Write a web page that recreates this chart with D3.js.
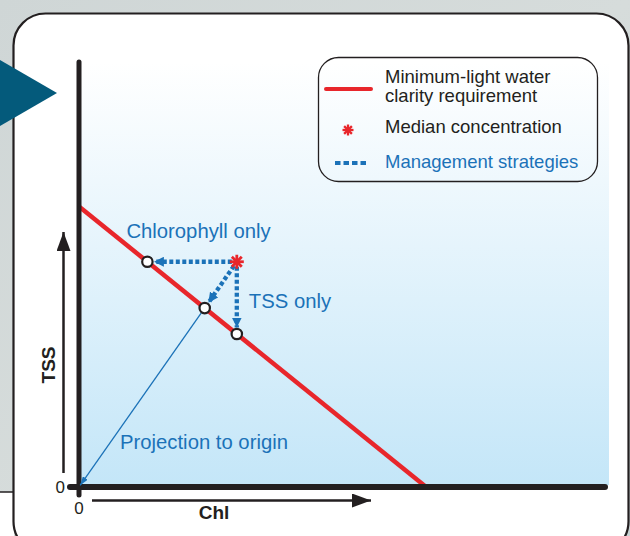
<!DOCTYPE html>
<html>
<head>
<meta charset="utf-8">
<script src="https://cdn.jsdelivr.net/npm/d3@7"></script>
<style>
  body { margin: 0; background: #d0d8d8; }
  svg { display: block; font-family: "Liberation Sans", Arial, sans-serif; }
</style>
</head>
<body>
<div id="chart"></div>
<script>
// chart values (arbitrary units, Chl on x, TSS on y)
const xTicks = [0];
const yTicks = [0];
const clarityChl = [0, 66];
const clarityTss = [66, 0];
const medianChl = [30];
const medianTss = [53];
const strategyNames = ['Chlorophyll only', 'TSS only', 'Projection to origin'];
const strategyChl = [13, 30, 23.9];
const strategyTss = [53, 36, 42.1];
const legendLabels = [['Minimum-light water', 'clarity requirement'], ['Median concentration'], ['Management strategies']];

const width = 630, height = 536;
const red = '#e8262b', blue = '#1b72b8', ink = '#231f20';

const svg = d3.select('#chart').append('svg')
  .attr('width', width)
  .attr('height', height);

const defs = svg.append('defs');

let bgGrad = defs.append('linearGradient').attr('id', 'bg')
  .attr('x1', 0).attr('y1', 0).attr('x2', 1).attr('y2', 1);
bgGrad.append('stop').attr('offset', '0%').attr('stop-color', '#cfd6d6');
bgGrad.append('stop').attr('offset', '50%').attr('stop-color', '#d6dcdb');
bgGrad.append('stop').attr('offset', '100%').attr('stop-color', '#c9d3d4');

let plotGrad = defs.append('linearGradient').attr('id', 'plotbg')
  .attr('x1', 0).attr('y1', 0).attr('x2', 0).attr('y2', 1);
plotGrad.append('stop').attr('offset', '0%').attr('stop-color', '#ffffff');
plotGrad.append('stop').attr('offset', '100%').attr('stop-color', '#c4e6f8');

function addMarker(id, color, w, h) {
  defs.append('marker')
    .attr('id', id)
    .attr('markerUnits', 'userSpaceOnUse')
    .attr('viewBox', `0 ${-h / 2} ${w} ${h}`)
    .attr('refX', w).attr('refY', 0)
    .attr('markerWidth', w).attr('markerHeight', h)
    .attr('orient', 'auto')
    .append('path')
    .attr('d', `M0,${-h / 2}L${w},0L0,${h / 2}Z`)
    .attr('fill', color);
}
addMarker('blueHead', blue, 10, 10);
addMarker('thinHead', blue, 9, 6);
addMarker('blackHead', ink, 19, 14);

// background + panel
svg.append('rect').attr('width', width).attr('height', height).attr('fill', 'url(#bg)');
svg.append('rect').attr('x', 0).attr('y', 492).attr('width', 14).attr('height', 44).attr('fill', '#fff');
svg.append('line').attr('x1', 0).attr('x2', 14).attr('y1', 492).attr('y2', 492)
  .attr('stroke', ink).attr('stroke-width', 1.5);

svg.append('rect')
  .attr('x', 13.5).attr('y', 13.5)
  .attr('width', 615).attr('height', 540)
  .attr('rx', 32)
  .attr('fill', '#fff')
  .attr('stroke', ink).attr('stroke-width', 2.2);

svg.append('path')
  .attr('d', 'M0,60L57,93L0,126Z')
  .attr('fill', '#045a7b');

// scales
const x = d3.scaleLinear().domain([0, 100]).range([79, 605]);
const y = d3.scaleLinear().domain([0, 100]).range([487, 62]);

svg.append('rect')
  .attr('x', x(0)).attr('y', y(100))
  .attr('width', 609 - x(0)).attr('height', y(0) - y(100) - 2)
  .attr('fill', 'url(#plotbg)');

// clarity requirement line
const line = d3.line().x(d => x(d[0])).y(d => y(d[1]));
svg.append('path')
  .datum(d3.zip(clarityChl, clarityTss))
  .attr('d', line)
  .attr('fill', 'none')
  .attr('stroke', red)
  .attr('stroke-width', 4.5);

// axes
svg.append('line')
  .attr('x1', x(0)).attr('x2', x(0))
  .attr('y1', y(100)).attr('y2', 495)
  .attr('stroke', ink).attr('stroke-width', 5).attr('stroke-linecap', 'round');
svg.append('line')
  .attr('x1', 70).attr('x2', x(100))
  .attr('y1', y(0)).attr('y2', y(0))
  .attr('stroke', ink).attr('stroke-width', 6).attr('stroke-linecap', 'round');

svg.selectAll('.ytick').data(yTicks).enter().append('text')
  .attr('x', 65).attr('y', d => y(d) + 6)
  .attr('text-anchor', 'end')
  .attr('font-size', 17).attr('fill', ink)
  .text(d => d);
svg.selectAll('.xtick').data(xTicks).enter().append('text')
  .attr('x', d => x(d)).attr('y', 514)
  .attr('text-anchor', 'middle')
  .attr('font-size', 17).attr('fill', ink)
  .text(d => d);

// axis direction arrows
svg.append('line')
  .attr('x1', 63.5).attr('x2', 63.5).attr('y1', 473).attr('y2', 232)
  .attr('stroke', ink).attr('stroke-width', 2.5)
  .attr('marker-end', 'url(#blackHead)');
svg.append('line')
  .attr('x1', 92).attr('x2', 371).attr('y1', 500.5).attr('y2', 500.5)
  .attr('stroke', ink).attr('stroke-width', 2.5)
  .attr('marker-end', 'url(#blackHead)');

svg.append('text')
  .attr('transform', 'translate(55,365) rotate(-90)')
  .attr('text-anchor', 'middle')
  .attr('font-size', 19).attr('font-weight', 'bold').attr('fill', ink)
  .text('TSS');
svg.append('text')
  .attr('x', 214).attr('y', 519)
  .attr('text-anchor', 'middle')
  .attr('font-size', 19).attr('font-weight', 'bold').attr('fill', ink)
  .text('Chl');

// management strategy arrows
const mx = x(medianChl[0]), my = y(medianTss[0]);
function trim(x1, y1, x2, y2, a, b) {
  const dx = x2 - x1, dy = y2 - y1, len = Math.hypot(dx, dy);
  return [x1 + dx * a / len, y1 + dy * a / len, x2 - dx * b / len, y2 - dy * b / len];
}
const targets = strategyChl.map((c, i) => [x(c), y(strategyTss[i])]);

targets.forEach(t => {
  const p = trim(mx, my, t[0], t[1], 5, 6.5);
  svg.append('line')
    .attr('x1', p[0]).attr('y1', p[1]).attr('x2', p[2]).attr('y2', p[3])
    .attr('stroke', blue).attr('stroke-width', 4.3)
    .attr('stroke-dasharray', '4 2.5')
    .attr('marker-end', 'url(#blueHead)');
});

// projection to origin (thin line)
const proj = targets[2];
const pp = trim(proj[0], proj[1], x(0), y(0), 5, 2);
svg.append('line')
  .attr('x1', pp[0]).attr('y1', pp[1]).attr('x2', pp[2]).attr('y2', pp[3])
  .attr('stroke', blue).attr('stroke-width', 1.3)
  .attr('marker-end', 'url(#thinHead)');

svg.selectAll('.target').data(targets).enter().append('circle')
  .attr('cx', d => d[0]).attr('cy', d => d[1])
  .attr('r', 5.2)
  .attr('fill', '#fff')
  .attr('stroke', ink).attr('stroke-width', 2.2);

function star(g, cx, cy, r, w) {
  [0, 45, 90, 135].forEach(a => {
    const rad = a * Math.PI / 180;
    g.append('line')
      .attr('x1', cx - r * Math.cos(rad)).attr('y1', cy - r * Math.sin(rad))
      .attr('x2', cx + r * Math.cos(rad)).attr('y2', cy + r * Math.sin(rad))
      .attr('stroke', red).attr('stroke-width', w);
  });
}
star(svg, mx, my, 7, 2.8);

// strategy labels
const labelPos = [[targets[0][0] - 21, my - 24], [mx + 12, y(strategyTss[1]) - 26], [120, 449]];
svg.selectAll('.slabel').data(strategyNames).enter().append('text')
  .attr('x', (d, i) => labelPos[i][0])
  .attr('y', (d, i) => labelPos[i][1])
  .attr('font-size', 20.3).attr('fill', blue)
  .text(d => d);

// legend
const lg = svg.append('g');
lg.append('rect')
  .attr('x', 318.5).attr('y', 57.5)
  .attr('width', 279).attr('height', 124)
  .attr('rx', 20)
  .attr('fill', 'none')
  .attr('stroke', ink).attr('stroke-width', 1.3);

lg.append('line')
  .attr('x1', 326).attr('x2', 371).attr('y1', 89).attr('y2', 89)
  .attr('stroke', red).attr('stroke-width', 4).attr('stroke-linecap', 'round');
star(lg, 348, 130, 5.5, 2.3);
lg.append('line')
  .attr('x1', 335).attr('x2', 366).attr('y1', 163).attr('y2', 163)
  .attr('stroke', blue).attr('stroke-width', 3.8)
  .attr('stroke-dasharray', '5.5 3');

const legendBase = [83, 133, 168];
legendLabels.forEach((lines, i) => {
  const t = lg.append('text')
    .attr('x', 385).attr('y', legendBase[i])
    .attr('font-size', 18.5)
    .attr('fill', i === 2 ? blue : ink);
  lines.forEach((s, j) => {
    t.append('tspan').attr('x', 385).attr('dy', j === 0 ? 0 : 19).text(s);
  });
});
</script>
</body>
</html>
